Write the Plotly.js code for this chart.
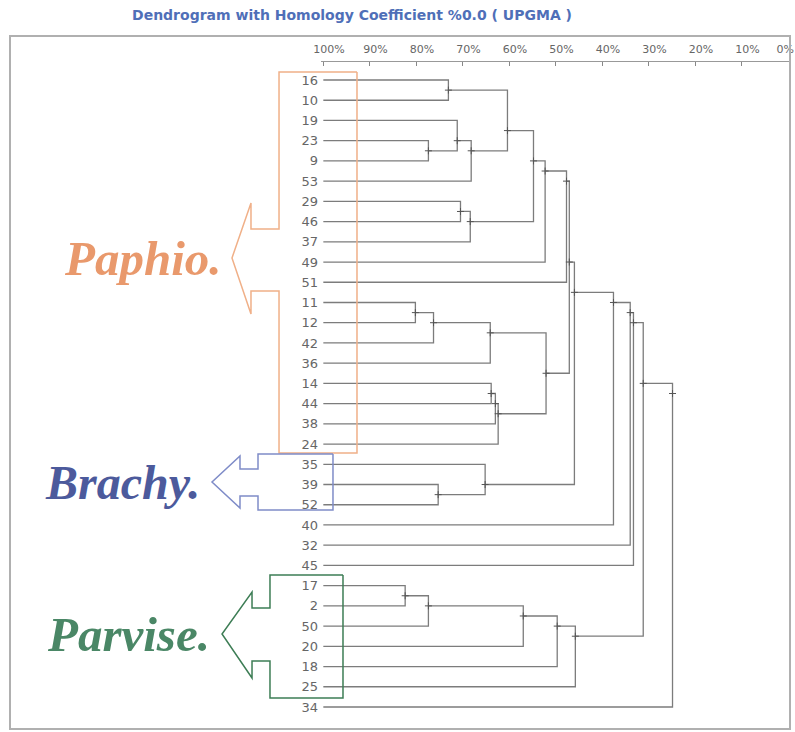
<!DOCTYPE html>
<html><head><meta charset="utf-8">
<script src="https://cdn.plot.ly/plotly-3.0.1.min.js"></script>
<style>html,body{margin:0;padding:0;background:#fff}#chart{width:795px;height:732px}</style>
</head><body><div id="chart"></div>
<script>
// Leaf order (top to bottom)
const leaves = ['16','10','19','23','9','53','29','46','37','49','51','11','12','42','36','14','44','38','24','35','39','52','40','32','45','17','2','50','20','18','25','34'];
// UPGMA merge table: left child, right child, similarity (%) ; "m<k>" = k-th merge
const mergeA = ['16','23','19','m2','m0','29','m5','m4','m7','m8','11','m10','m11','14','m13','m14','m12','m9','39','35','m17','m20','m21','m22','17','m24','m25','m26','m27','m23','m29'];
const mergeB = ['10','9','m1','53','m3','46','37','m6','49','51','12','42','36','44','38','24','m15','m16','52','m18','m19','40','32','45','2','50','20','18','25','m28','34'];
const mergeSim = [73.1,77.4,71.2,68.2,60.4,70.5,68.4,54.8,52.3,47.7,80.2,76.3,64.1,63.9,63.0,62.4,52.1,47.1,75.3,65.2,46.0,37.6,34.0,33.3,82.4,77.4,57.0,49.7,45.8,31.2,24.9];
const tickVals = [100,90,80,70,60,50,40,30,20,10,0];
const tickText = ['100%','90%','80%','70%','60%','50%','40%','30%','20%','10%','0%'];
const groupNames = ['Paphio.','Brachy.','Parvise.'];

const mean = a => a.reduce((s,v)=>s+v,0)/a.length;
const pos = {};
leaves.forEach((l,i)=>{ pos[l] = {x:100, ys:[i]}; });
const lx=[], ly=[], nx=[], ny=[];
for (let k=0;k<mergeSim.length;k++){
  const a=pos[mergeA[k]], b=pos[mergeB[k]], s=mergeSim[k];
  const ya=mean(a.ys), yb=mean(b.ys);
  lx.push(a.x, s, s, b.x, null); ly.push(ya, ya, yb, yb, null);
  const ys=a.ys.concat(b.ys);
  pos['m'+k]={x:s, ys:ys};
  nx.push(s); ny.push(mean(ys));
}

const W=795,H=732, L=321, R=6, T=62, B=7;
const pw=W-L-R, ph=H-T-B;
const px = x => (x-L)/pw;
const py = y => (H-B-y)/ph;
function path(pts){ return pts.map((p,i)=>(i?'L':'M')+px(p[0]).toFixed(4)+','+py(p[1]).toFixed(4)).join(' '); }

// label placement: labels sit just right of their tick; the last one stays inside the page
const NB = '\u00a0';
const shownTicks = tickText.map((t,i)=> i<tickText.length-1 ? NB.repeat(5)+t : t);

const shapes = [
  {type:'rect', xref:'paper', yref:'paper', x0:px(10), x1:px(790), y0:py(729), y1:py(36), line:{color:'#b0b0b0', width:2}},
  {type:'path', xref:'paper', yref:'paper', line:{color:'#f0b088', width:1.5},
   path:path([[357,72],[279,72],[279,229],[251,229],[251,203],[232,258],[251,314],[251,291],[279,291],[279,453],[357,453],[357,72]])},
  {type:'path', xref:'paper', yref:'paper', line:{color:'#7f8cc8', width:1.5},
   path:path([[333,454],[258,454],[258,469],[240,469],[240,456],[212,482],[240,508],[240,496],[258,496],[258,510],[333,510],[333,454]])},
  {type:'path', xref:'paper', yref:'paper', line:{color:'#3d7d55', width:1.5},
   path:path([[343,575],[270,575],[270,608],[252,608],[252,592],[222,634],[252,678],[252,661],[270,661],[270,698],[343,698],[343,575]])}
];

const annotations = [
  {text:groupNames[0], xref:'paper', yref:'paper', x:px(143), y:py(258), showarrow:false, xanchor:'center', yanchor:'middle',
   font:{family:'Liberation Serif', size:49, color:'#e9996c', weight:'bold', style:'italic'}},
  {text:groupNames[1], xref:'paper', yref:'paper', x:px(122), y:py(482), showarrow:false, xanchor:'center', yanchor:'middle',
   font:{family:'Liberation Serif', size:48, color:'#4c5a9c', weight:'bold', style:'italic'}},
  {text:groupNames[2], xref:'paper', yref:'paper', x:px(128), y:py(634), showarrow:false, xanchor:'center', yanchor:'middle',
   font:{family:'Liberation Serif', size:49, color:'#4a8766', weight:'bold', style:'italic'}}
];

const traces = [
  {type:'scatter', mode:'lines', x:lx, y:ly, line:{color:'#7c7c7c', width:1.3}, hoverinfo:'skip', showlegend:false},
  {type:'scatter', mode:'markers', x:nx, y:ny, marker:{symbol:'cross-thin-open', size:5, color:'#555', line:{color:'#555', width:1}}, hoverinfo:'skip', showlegend:false}
];

const layout = {
  width:W, height:H, margin:{l:L, r:R, t:T, b:B},
  paper_bgcolor:'#fff', plot_bgcolor:'#fff',
  title:{text:'Dendrogram with Homology Coefficient %0.0 ( UPGMA )', xref:'container', yref:'container', x:352/W, y:1-15/H, xanchor:'center', yanchor:'middle',
    font:{family:'DejaVu Sans', size:14, color:'#4f6fb8', weight:'bold'}},
  xaxis:{side:'top', range:[100.5,-0.15], tickvals:tickVals, ticktext:shownTicks, tickangle:0, ticks:'inside', ticklen:4, tickcolor:'#888',
    showline:true, linecolor:'#999', linewidth:1, showgrid:false, zeroline:false, ticklabelstandoff:4, ticklabelshift:3,
    ticklabeloverflow:'allow', tickfont:{family:'DejaVu Sans', size:11, color:'#666'}},
  yaxis:{range:[31.89,-0.89], tickvals:leaves.map((l,i)=>i), ticktext:leaves, ticks:'', showline:false, showgrid:false, zeroline:false,
    ticklabelstandoff:2, tickfont:{family:'DejaVu Sans', size:13, color:'#666'}},
  shapes:shapes, annotations:annotations
};
Plotly.newPlot('chart', traces, layout, {displayModeBar:false, staticPlot:true});
</script>
</body></html>
